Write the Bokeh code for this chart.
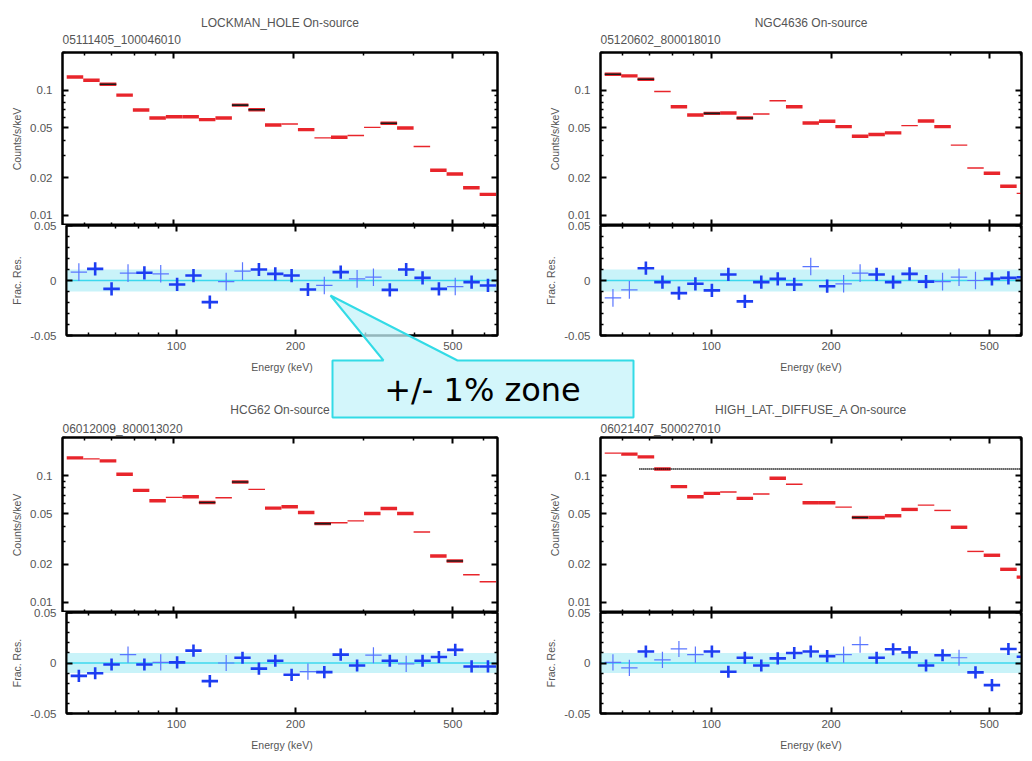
import math
from bokeh.plotting import figure
from bokeh.layouts import column
from bokeh.models import (Range1d, LogAxis, LinearAxis, FixedTicker, CustomJSTickFormatter,
                          Title, BoxAnnotation, Span, ColumnDataSource)
from bokeh.embed import file_html
from bokeh.resources import INLINE
from bokeh.core.properties import value

# ---------------- data ----------------
E_EDGES = [54.0, 59.4, 65.3, 71.9, 79.1, 87.0, 95.7, 105.3, 115.8, 127.4, 140.1, 154.1, 169.6,
           186.5, 205.1, 225.6, 248.2, 273.1, 300.4, 330.4, 363.5, 399.9, 439.9, 483.8, 532.1,
           585.4, 643.9]

TITLES = ["LOCKMAN_HOLE On-source", "NGC4636 On-source", "HCG62 On-source",
          "HIGH_LAT._DIFFUSE_A On-source"]
SUBTITLES = ["05111405_100046010", "05120602_800018010", "06012009_800013020",
             "06021407_500027010"]

TL_RATE = [0.1276, 0.1200, 0.1116, 0.0913, 0.0694, 0.0600, 0.0614, 0.0614, 0.0582, 0.0600, 0.0760,
           0.0698, 0.0527, 0.0537, 0.0484, 0.0416, 0.0421, 0.0434, 0.0505, 0.0544, 0.0499, 0.0355,
           0.0229, 0.0214, 0.0166, 0.0147]
TR_RATE = [0.1340, 0.1300, 0.1223, 0.0976, 0.0737, 0.0633, 0.0653, 0.0657, 0.0600, 0.0645, 0.0823,
           0.0737, 0.0547, 0.0564, 0.0512, 0.0429, 0.0442, 0.0456, 0.0521, 0.0567, 0.0512, 0.0364,
           0.0239, 0.0217, 0.0171, 0.0150]
BL_RATE = [0.1381, 0.1356, 0.1307, 0.1025, 0.0765, 0.0633, 0.0673, 0.0681, 0.0614, 0.0669, 0.0891,
           0.0779, 0.0554, 0.0568, 0.0512, 0.0418, 0.0424, 0.0439, 0.0502, 0.0550, 0.0502, 0.0359,
           0.0232, 0.0212, 0.0165, 0.0145]
BR_RATE = [0.1504, 0.1477, 0.1406, 0.1129, 0.0818, 0.0681, 0.0724, 0.0742, 0.0661, 0.0715, 0.0953,
           0.0854, 0.0610, 0.0610, 0.0564, 0.0467, 0.0467, 0.0482, 0.0541, 0.0585, 0.0531, 0.0391,
           0.0252, 0.0235, 0.0182, 0.0158]

TL_THIN = [13, 15, 17, 18, 21]
TR_THIN = [3, 9, 10, 18, 21, 22, 25]
BL_THIN = [1, 6, 9, 11, 16, 17, 21, 24, 25]
BR_THIN = [0, 7, 9, 11, 14, 19, 20, 22]

TL_DARK = [2, 10, 11, 19]
TR_DARK = [0, 2, 6, 8]
BL_DARK = [8, 10, 15, 23]
BR_DARK = [15]

TL_RES = [0.0076, 0.0106, -0.0076, 0.0067, 0.0070, 0.0061, -0.0036, 0.0045, -0.0197, -0.0010,
          0.0085, 0.0100, 0.0060, 0.0045, -0.0082, -0.0045, 0.0076, 0.0015, 0.0030, -0.0085,
          0.0100, 0.0024, -0.0076, -0.0055, -0.0015, -0.0045]
TR_RES = [-0.0158, -0.0085, 0.0112, -0.0015, -0.0115, -0.0030, -0.0090, 0.0055, -0.0190, -0.0015,
          0.0015, -0.0036, 0.0127, -0.0052, -0.0030, 0.0067, 0.0055, -0.0015, 0.0060, -0.0010,
          -0.0010, 0.0030, 0.0000, 0.0015, 0.0024, 0.0030]
BL_RES = [-0.0127, -0.0102, -0.0015, 0.0083, -0.0015, 0.0006, 0.0006, 0.0123, -0.0179, 0.0000,
          0.0052, -0.0056, 0.0022, -0.0117, -0.0086, -0.0090, 0.0083, -0.0025, 0.0077, 0.0022,
          -0.0009, 0.0022, 0.0059, 0.0130, -0.0034, -0.0034]
BR_RES = [0.0006, -0.0049, 0.0114, 0.0031, 0.0139, 0.0083, 0.0114, -0.0086, 0.0052, -0.0025,
          0.0046, 0.0099, 0.0114, 0.0068, 0.0083, 0.0182, 0.0052, 0.0136, 0.0105, -0.0025,
          0.0077, 0.0052, -0.0093, -0.0219, 0.0139, 0.0062]

TL_RES_ERR = [0.008, 0.006, 0.006, 0.008, 0.006, 0.008, 0.006, 0.006, 0.006, 0.008, 0.008, 0.006,
              0.006, 0.006, 0.006, 0.008, 0.006, 0.008, 0.008, 0.006, 0.006, 0.006, 0.006, 0.008,
              0.006, 0.006]
TR_RES_ERR = [0.008, 0.008, 0.006, 0.006, 0.006, 0.006, 0.006, 0.006, 0.006, 0.006, 0.006, 0.006,
              0.008, 0.006, 0.008, 0.008, 0.006, 0.006, 0.006, 0.006, 0.008, 0.008, 0.008, 0.006,
              0.006, 0.006]
BL_RES_ERR = [0.006, 0.006, 0.006, 0.008, 0.006, 0.008, 0.006, 0.006, 0.006, 0.008, 0.006, 0.006,
              0.006, 0.006, 0.008, 0.006, 0.006, 0.006, 0.008, 0.006, 0.008, 0.006, 0.006, 0.006,
              0.006, 0.006]
BR_RES_ERR = [0.008, 0.008, 0.006, 0.008, 0.008, 0.008, 0.006, 0.006, 0.006, 0.006, 0.006, 0.006,
              0.006, 0.006, 0.008, 0.008, 0.006, 0.006, 0.006, 0.006, 0.006, 0.008, 0.006, 0.006,
              0.006, 0.006]

TL_RES_THICK = [0, 1, 1, 0, 1, 0, 1, 1, 1, 0, 0, 1, 1, 1, 1, 0, 1, 0, 0, 1, 1, 1, 1, 0, 1, 1]
TR_RES_THICK = [0, 0, 1, 1, 1, 1, 1, 1, 1, 1, 1, 1, 0, 1, 0, 0, 1, 1, 1, 1, 0, 0, 0, 1, 1, 1]
BL_RES_THICK = [1, 1, 1, 0, 1, 0, 1, 1, 1, 0, 1, 1, 1, 1, 0, 1, 1, 1, 0, 1, 0, 1, 1, 1, 1, 1]
BR_RES_THICK = [0, 0, 1, 0, 0, 0, 1, 1, 1, 1, 1, 1, 1, 1, 0, 0, 1, 1, 1, 1, 1, 0, 1, 1, 1, 1]

BR_MODEL_START = 66.0   # keV, dotted model level in the 4th panel
BR_MODEL_LEVEL = 0.113

ZONE = 0.01  # +/- 1 % band

X_MAJOR = [100, 200, 500]
X_MINOR = [60, 70, 80, 90, 300, 400, 600]
Y_MAJOR = [0.01, 0.02, 0.05, 0.1]
Y_MINOR = [0.03, 0.04, 0.06, 0.07, 0.08, 0.09, 0.2]
R_MAJOR = [-0.05, 0, 0.05]
R_MINOR = [-0.04, -0.03, -0.02, -0.01, 0.01, 0.02, 0.03, 0.04]

CALLOUT_TEXT = "+/- 1% zone"
CALLOUT_X = [10, 61, 8, 135, 311, 311, 10]
CALLOUT_Y = [74, 74, 9, 74, 74, 131, 131]

# ---------------- styling / geometry ----------------
FONT = "Liberation Sans"
TXT = "#555555"
RED = "#e8252b"
DARK = "#1c1c1c"
BLUE = "#1d3df2"
BLUE_THIN = "#5a76ff"
BAND = "#c9f3f9"
ZERO = "#3cd8ee"

X_RANGE_LEFT = (52.7, 649.0)
X_RANGE_RIGHT = (52.7, 602.0)
Y_RANGE_SPEC = (0.0083, 0.2)
Y_RANGE_RES = (-0.05, 0.05)
RES_OVERLAP = 8

LAYOUT = [
    dict(left=8, top=8, width=520, bl=54, br=31, xr=X_RANGE_LEFT, spec_h=217, spec_bt=44,
         res_h=171, res_bb=53, sub_so=12, title_so=-10),
    dict(left=528, top=8, width=496, bl=72, br=3, xr=X_RANGE_RIGHT, spec_h=217, spec_bt=44,
         res_h=171, res_bb=53, sub_so=12, title_so=-10),
    dict(left=8, top=388, width=520, bl=54, br=31, xr=X_RANGE_LEFT, spec_h=224, spec_bt=49,
         res_h=149, res_bb=31, sub_so=3, title_so=4),
    dict(left=528, top=388, width=496, bl=72, br=3, xr=X_RANGE_RIGHT, spec_h=224, spec_bt=49,
         res_h=149, res_bb=31, sub_so=3, title_so=4),
]
CALLOUT_POS = dict(left=322, top=286, width=320, height=135)

RATES = [TL_RATE, TR_RATE, BL_RATE, BR_RATE]
THINS = [TL_THIN, TR_THIN, BL_THIN, BR_THIN]
DARKS = [TL_DARK, TR_DARK, BL_DARK, BR_DARK]
RESS = [TL_RES, TR_RES, BL_RES, BR_RES]
ERRS = [TL_RES_ERR, TR_RES_ERR, BL_RES_ERR, BR_RES_ERR]
THICKS = [TL_RES_THICK, TR_RES_THICK, BL_RES_THICK, BR_RES_THICK]


def abs_style(left, top):
    return {"position": "absolute", "left": f"{left}px", "top": f"{top}px"}


def style_axis(ax, ticks, minor, labels, label_text=None, standoff=8, label_standoff=4):
    ax.ticker = FixedTicker(ticks=ticks, minor_ticks=minor)
    ax.axis_line_color = "black"
    ax.axis_line_width = 2
    ax.major_tick_line_color = "black"
    ax.major_tick_line_width = 2
    ax.minor_tick_line_color = "black"
    ax.minor_tick_line_width = 1.5
    ax.major_tick_in = 6
    ax.major_tick_out = 0
    ax.minor_tick_in = 3
    ax.minor_tick_out = 0
    if labels:
        ax.formatter = CustomJSTickFormatter(code="return String(tick);")
        ax.major_label_text_font = FONT
        ax.major_label_text_font_size = "11.5px"
        ax.major_label_text_color = TXT
        ax.major_label_standoff = standoff
    else:
        ax.formatter = CustomJSTickFormatter(code="return '';")
        ax.major_label_text_font_size = "0px"
        ax.major_label_standoff = 0
    if label_text:
        ax.axis_label = label_text
        ax.axis_label_text_font = FONT
        ax.axis_label_text_font_size = "10.5px"
        ax.axis_label_text_font_style = "normal"
        ax.axis_label_text_color = TXT
        ax.axis_label_standoff = label_standoff
    return ax


lo = E_EDGES[:-1]
hi = E_EDGES[1:]
mid = [math.sqrt(a * b) for a, b in zip(lo, hi)]

figs = []
for i, L in enumerate(LAYOUT):
    # ---------- spectrum panel ----------
    p = figure(width=L["width"], height=L["spec_h"], x_axis_type="log", y_axis_type="log",
               x_axis_location=None, y_axis_location=None,
               x_range=Range1d(*L["xr"]), y_range=Range1d(*Y_RANGE_SPEC),
               toolbar_location=None, output_backend="svg", frame_align=False,
               min_border_left=L["bl"], min_border_right=L["br"],
               min_border_top=L["spec_bt"], min_border_bottom=0,
               background_fill_color="white", border_fill_color="white",
               outline_line_color="black", outline_line_width=2,
               styles=abs_style(L["left"], L["top"]))
    p.grid.visible = False
    p.add_layout(style_axis(LogAxis(), Y_MAJOR, Y_MINOR, True, "Counts/s/keV", standoff=10), "left")
    p.add_layout(style_axis(LogAxis(), Y_MAJOR, Y_MINOR, False), "right")
    p.add_layout(style_axis(LogAxis(), X_MAJOR, X_MINOR, False), "below")
    p.add_layout(style_axis(LogAxis(), X_MAJOR, X_MINOR, False), "above")
    p.add_layout(Title(text=SUBTITLES[i], align="left", text_font=FONT, text_font_size="12px",
                       text_font_style="normal", text_color=TXT, standoff=L["sub_so"]), "above")
    p.title.text = TITLES[i]
    p.title.align = "center"
    p.title.text_font = FONT
    p.title.text_font_size = "12px"
    p.title.text_font_style = "normal"
    p.title.text_color = TXT
    p.title.standoff = L["title_so"]

    rate = RATES[i]
    lw = [1.4 if k in THINS[i] else 3.4 for k in range(len(rate))]
    src = ColumnDataSource(dict(lo=lo, hi=hi, rate=rate, lw=lw))
    p.segment(x0="lo", x1="hi", y0="rate", y1="rate", line_width="lw", line_color=RED, source=src)
    dk = DARKS[i]
    dsrc = ColumnDataSource(dict(lo=[lo[k] for k in dk], hi=[hi[k] for k in dk], rate=[rate[k] for k in dk]))
    p.segment(x0="lo", x1="hi", y0="rate", y1="rate", line_width=1.6, line_color=DARK, source=dsrc)
    if i == 3:
        p.segment(x0=[BR_MODEL_START], x1=[E_EDGES[-1]], y0=[BR_MODEL_LEVEL], y1=[BR_MODEL_LEVEL],
                  line_color="black", line_width=2, line_dash="1 1")
    figs.append(p)

    # ---------- residual panel ----------
    r = figure(width=L["width"], height=L["res_h"], x_axis_type="log",
               x_axis_location=None, y_axis_location=None,
               x_range=p.x_range, y_range=Range1d(*Y_RANGE_RES),
               toolbar_location=None, output_backend="svg", frame_align=False,
               min_border_left=L["bl"], min_border_right=L["br"],
               min_border_top=RES_OVERLAP, min_border_bottom=L["res_bb"],
               background_fill_color="white", border_fill_alpha=0,
               outline_line_color="black", outline_line_width=2,
               styles=abs_style(L["left"], L["top"] + L["spec_h"] - RES_OVERLAP))
    r.grid.visible = False
    r.add_layout(style_axis(LinearAxis(), R_MAJOR, R_MINOR, True, "Frac. Res.", standoff=10), "left")
    r.add_layout(style_axis(LinearAxis(), R_MAJOR, R_MINOR, False), "right")
    r.add_layout(style_axis(LogAxis(), X_MAJOR, X_MINOR, True, "Energy (keV)", standoff=6,
                            label_standoff=8), "below")
    r.add_layout(style_axis(LogAxis(), X_MAJOR, X_MINOR, False), "above")
    r.add_layout(BoxAnnotation(bottom=-ZONE, top=ZONE, fill_color=BAND, fill_alpha=1.0,
                               line_color=None, level="underlay"))
    r.add_layout(Span(location=0, dimension="width", line_color=ZERO, line_width=1.5, level="underlay"))

    res = RESS[i]
    err = ERRS[i]
    thick = THICKS[i]
    rsrc = ColumnDataSource(dict(
        lo=lo, hi=hi, mid=mid, res=res,
        ylo=[v - e for v, e in zip(res, err)], yhi=[v + e for v, e in zip(res, err)],
        lw=[2.6 if t else 1.2 for t in thick],
        col=[BLUE if t else BLUE_THIN for t in thick]))
    r.segment(x0="lo", x1="hi", y0="res", y1="res", line_width="lw", line_color="col", source=rsrc)
    r.segment(x0="mid", x1="mid", y0="ylo", y1="yhi", line_width="lw", line_color="col", source=rsrc)
    figs.append(r)

# ---------- callout ----------
cp = figure(width=CALLOUT_POS["width"], height=CALLOUT_POS["height"],
            x_range=Range1d(0, CALLOUT_POS["width"]), y_range=Range1d(CALLOUT_POS["height"], 0),
            x_axis_location=None, y_axis_location=None, toolbar_location=None,
            output_backend="svg", frame_align=False,
            min_border_left=0, min_border_right=0, min_border_top=0, min_border_bottom=0,
            background_fill_alpha=0, border_fill_alpha=0, outline_line_color=None,
            styles=dict(abs_style(CALLOUT_POS["left"], CALLOUT_POS["top"]), **{"z-index": "10"}))
cp.grid.visible = False
cp.patch(CALLOUT_X, CALLOUT_Y, fill_color="#c4f3f9", fill_alpha=0.75,
         line_color="#33dbe6", line_width=2)
cp.text(x=[160], y=[103], text=[CALLOUT_TEXT], text_font=value("DejaVu Sans"), text_font_size="32px",
        text_align="center", text_baseline="middle", text_color="black")
figs.append(cp)

layout = column(*figs, width=1016, height=745)

with open("out.html", "w") as f:
    f.write(file_html(layout, INLINE))
